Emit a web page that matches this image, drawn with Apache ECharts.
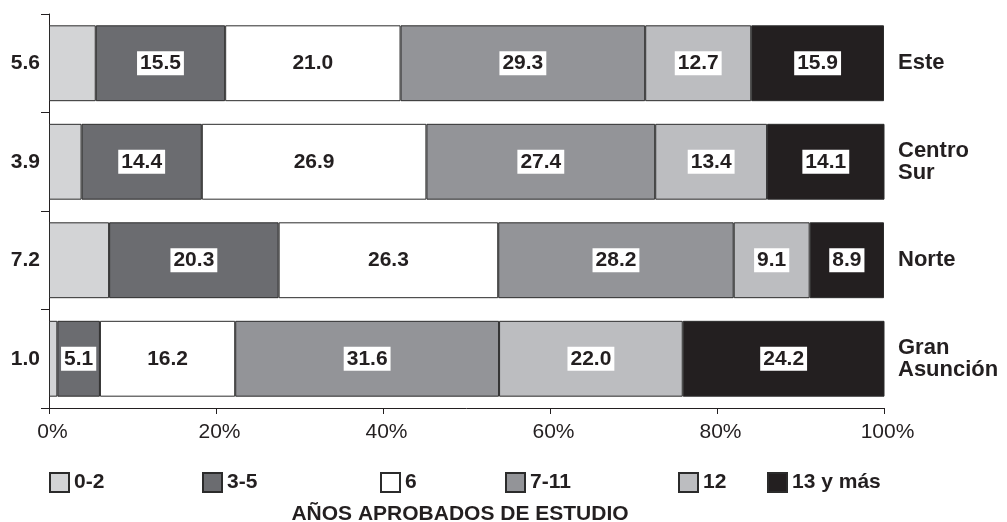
<!DOCTYPE html>
<html>
<head>
<meta charset="utf-8">
<script src="https://cdn.jsdelivr.net/npm/echarts@6/dist/echarts.min.js"></script>
<style>
html,body{margin:0;padding:0;background:#fff;}
#chart{width:1007px;height:522px;}
</style>
</head>
<body>
<div id="chart"></div>
<script>
const regions = ['Este', 'Centro\nSur', 'Norte', 'Gran\nAsunción'];
const seriesNames = ['0-2', '3-5', '6', '7-11', '12', '13 y más'];
const s02 = [5.6, 3.9, 7.2, 1.0];
const s35 = [15.5, 14.4, 20.3, 5.1];
const s6 = [21.0, 26.9, 26.3, 16.2];
const s711 = [29.3, 27.4, 28.2, 31.6];
const s12 = [12.7, 13.4, 9.1, 22.0];
const s13 = [15.9, 14.1, 8.9, 24.2];
const xTicks = [0, 20, 40, 60, 80, 100];
const axisTitle = 'AÑOS APROBADOS DE ESTUDIO';

const values = [s02, s35, s6, s711, s12, s13];
const colors = ['#d3d4d6', '#6b6c70', '#ffffff', '#939498', '#bcbdc0', '#231f20'];
const legendLeft = [49, 202, 380, 505, 678, 767];
const FONT = '"Liberation Sans", Arial, Helvetica, sans-serif';
const INK = '#231f20';

const chart = echarts.init(document.getElementById('chart'), null, {renderer: 'canvas'});

const series = seriesNames.map((name, i) => ({
  name: name,
  type: 'bar',
  stack: 'total',
  barCategoryGap: '23%',
  data: values[i],
  itemStyle: {color: colors[i], borderColor: '#2b2b2b', borderWidth: 1},
  label: {
    show: i > 0,
    position: 'inside',
    formatter: p => p.value.toFixed(1),
    color: INK,
    fontFamily: FONT,
    fontWeight: 'bold',
    fontSize: 21,
    backgroundColor: '#ffffff',
    padding: [2, 3, 1, 3]
  },
  emphasis: {disabled: true},
  animation: false
}));

const legends = seriesNames.map((name, i) => ({
  data: [name],
  left: legendLeft[i],
  top: 472,
  itemWidth: 19,
  itemHeight: 19,
  icon: 'rect',
  selectedMode: false,
  textStyle: {color: INK, fontFamily: FONT, fontWeight: 'bold', fontSize: 21, padding: [2, 0, 0, 0]},
  padding: 0
}));

chart.setOption({
  animation: false,
  backgroundColor: '#ffffff',
  grid: {left: 49, right: 123, top: 14, height: 394, containLabel: false},
  title: {
    text: axisTitle,
    left: 455,
    textAlign: 'center',
    top: 499,
    textStyle: {color: INK, fontFamily: FONT, fontWeight: 'bold', fontSize: 21}
  },
  legend: legends,
  xAxis: {
    type: 'value',
    min: 0,
    max: 100,
    interval: 20,
    axisLine: {show: true, lineStyle: {color: INK, width: 1}},
    axisTick: {show: true, length: 6, lineStyle: {color: INK}},
    splitLine: {show: false},
    axisLabel: {
      color: INK, fontFamily: FONT, fontSize: 21, margin: 14,
      padding: [0, 0, 0, 7],
      formatter: v => (xTicks.indexOf(v) >= 0 ? v + '%' : '')
    }
  },
  yAxis: [
    {
      type: 'category',
      data: regions,
      inverse: true,
      position: 'left',
      axisLine: {show: true, lineStyle: {color: INK, width: 1}},
      axisTick: {show: true, length: 8, lineStyle: {color: INK}},
      axisLabel: {
        color: INK, fontFamily: FONT, fontWeight: 'bold', fontSize: 21, margin: 9,
        formatter: (v, idx) => s02[idx].toFixed(1)
      }
    },
    {
      type: 'category',
      data: regions,
      inverse: true,
      position: 'right',
      axisLine: {show: false},
      axisTick: {show: false},
      axisLabel: {
        color: INK, fontFamily: FONT, fontWeight: 'bold', fontSize: 22, lineHeight: 22,
        margin: 14, align: 'left'
      }
    }
  ],
  series: series
});
</script>
</body>
</html>
